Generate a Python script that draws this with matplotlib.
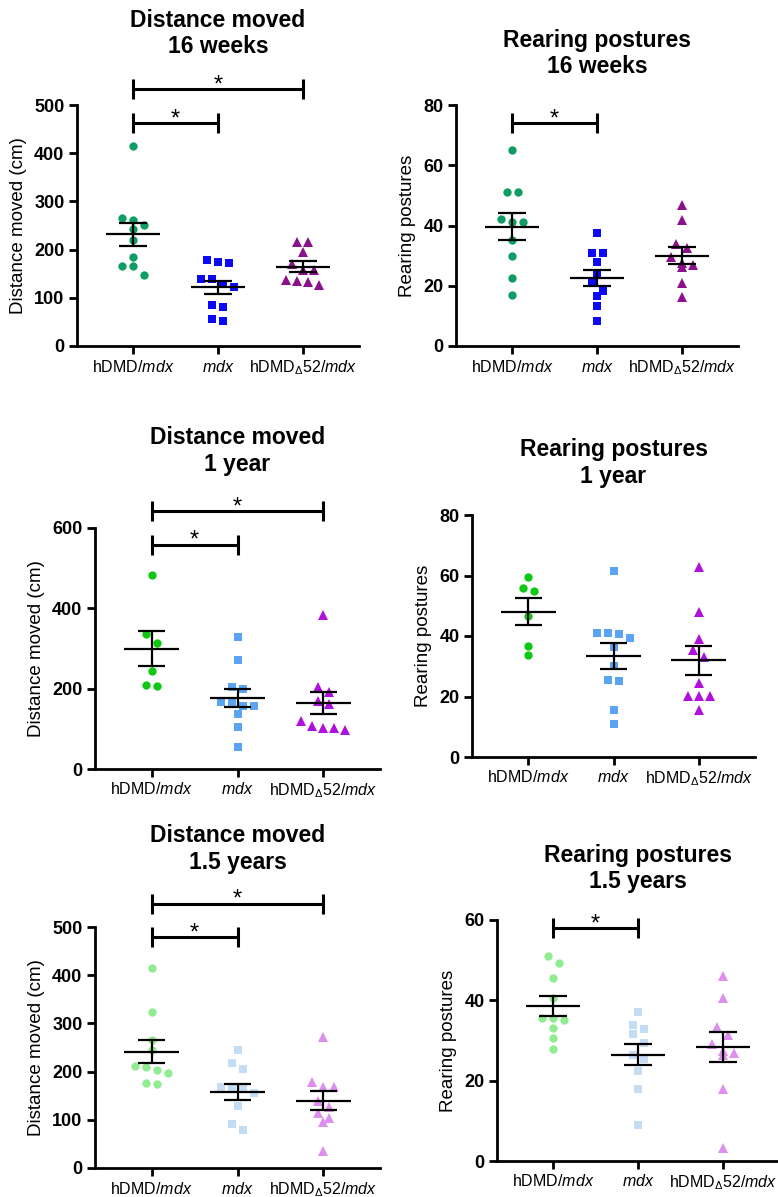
import numpy as np
import matplotlib
matplotlib.use("Agg")
import matplotlib.pyplot as plt

plt.rcParams['font.family'] = ['Liberation Sans', 'DejaVu Sans']
plt.rcParams['mathtext.fontset'] = 'custom'
plt.rcParams['mathtext.rm'] = 'Liberation Sans'
plt.rcParams['mathtext.it'] = 'Liberation Sans:italic'

groups = [r'hDMD/$\mathit{mdx}$', r'$\mathit{mdx}$', r'hDMD$_{\Delta}$52/$\mathit{mdx}$']

# distance moved, 16 weeks
dist16_hdmd = [414, 266, 262, 251, 242, 220, 185, 165, 165, 148]
dist16_mdx = [178, 174, 172, 140, 138, 128, 123, 85, 80, 55, 51]
dist16_d52 = [215, 215, 196, 171, 158, 158, 137, 135, 133, 127]
dist16_mean = [231.7, 121.7, 164.6]
dist16_sem = [24.2, 12.8, 11.1]

# rearing, 16 weeks
rear16_hdmd = [65.1, 51.2, 51.0, 42.2, 41.3, 41.0, 35.2, 29.9, 22.7, 16.9]
rear16_mdx = [37.6, 31.0, 31.0, 28.0, 24.1, 21.0, 18.4, 16.7, 13.3, 8.3]
rear16_d52 = [46.8, 41.8, 34.0, 32.4, 29.7, 27.4, 26.9, 26.3, 20.8, 16.4]
rear16_mean = [39.6, 22.7, 30.0]
rear16_sem = [4.55, 2.65, 2.9]

# distance moved, 1 year
dist1y_hdmd = [484, 336, 314, 243, 208, 206]
dist1y_mdx = [329, 271, 204, 199, 167, 164, 156, 156, 137, 104, 56]
dist1y_d52 = [384, 204, 191, 170, 163, 119, 106, 102, 102, 98]
dist1y_mean = [298.8, 176.8, 164.3]
dist1y_sem = [43.6, 21.6, 27.4]

# rearing, 1 year
rear1y_hdmd = [59.4, 56.0, 55.0, 46.7, 36.7, 33.7]
rear1y_mdx = [61.6, 41.0, 41.0, 40.5, 39.2, 36.2, 30.1, 25.6, 25.0, 15.4, 11.0]
rear1y_d52 = [62.9, 48.0, 38.9, 35.3, 32.9, 24.3, 20.1, 20.1, 20.1, 15.4]
rear1y_mean = [48.0, 33.3, 32.0]
rear1y_sem = [4.5, 4.25, 4.85]

# distance moved, 1.5 years
dist15_hdmd = [414, 323, 266, 244, 212, 210, 203, 198, 177, 174]
dist15_mdx = [245, 217, 205, 169, 168, 167, 155, 129, 92, 79]
dist15_d52 = [272, 178, 169, 168, 139, 126, 114, 103, 95, 35]
dist15_mean = [241.4, 158.6, 139.3]
dist15_sem = [24.2, 16.6, 20.0]

# rearing, 1.5 years
rear15_hdmd = [51.1, 49.4, 45.5, 40.5, 35.6, 35.6, 35.1, 33.0, 30.7, 28.0]
rear15_mdx = [37.0, 33.8, 32.8, 31.5, 29.5, 26.3, 25.5, 22.4, 17.9, 8.9]
rear15_d52 = [46.0, 40.5, 33.4, 31.3, 29.1, 27.4, 27.0, 26.3, 18.0, 3.3]
rear15_mean = [38.6, 26.5, 28.4]
rear15_sem = [2.6, 2.7, 3.75]

row_colors = [['#0f9d63', '#0a0af5', '#8b108b'],
              ['#10c814', '#5aa4f2', '#b010dc'],
              ['#90ec90', '#c4dcf4', '#de8eee']]
markers = ['o', 's', '^']
msizes = [6, 5.6, 6.6]

W, H = 778, 1197
fig = plt.figure(figsize=(W / 100, H / 100), dpi=100)

panels = [
    dict(rect=(77, 105, 359, 346), title='Distance moved\n16 weeks', ylab='Distance moved (cm)',
         data=[dist16_hdmd, dist16_mdx, dist16_d52], mean=dist16_mean, sem=dist16_sem,
         ymax=500, step=100, row=0, ty=1.297, sig=[(0, 1, 462.7), (0, 2, 533)], tick=20.7),
    dict(rect=(456, 105, 738, 346), title='Rearing postures\n16 weeks', ylab='Rearing postures',
         data=[rear16_hdmd, rear16_mdx, rear16_d52], mean=rear16_mean, sem=rear16_sem,
         ymax=80, step=20, row=0, ty=1.214, sig=[(0, 1, 74.0)], tick=3.3),
    dict(rect=(95, 528, 380, 769), title='Distance moved\n1 year', ylab='Distance moved (cm)',
         data=[dist1y_hdmd, dist1y_mdx, dist1y_d52], mean=dist1y_mean, sem=dist1y_sem,
         ymax=600, step=200, row=1, ty=1.319, sig=[(0, 1, 558.4), (0, 2, 641.3)], tick=24.9),
    dict(rect=(472, 515, 755, 757), title='Rearing postures\n1 year', ylab='Rearing postures',
         data=[rear1y_hdmd, rear1y_mdx, rear1y_d52], mean=rear1y_mean, sem=rear1y_sem,
         ymax=80, step=20, row=1, ty=1.214, sig=[], tick=3.3),
    dict(rect=(95, 927, 380, 1168), title='Distance moved\n1.5 years', ylab='Distance moved (cm)',
         data=[dist15_hdmd, dist15_mdx, dist15_d52], mean=dist15_mean, sem=dist15_sem,
         ymax=500, step=100, row=2, ty=1.323, sig=[(0, 1, 479.3), (0, 2, 548.4)], tick=20.7),
    dict(rect=(497, 920, 779, 1161), title='Rearing postures\n1.5 years', ylab='Rearing postures',
         data=[rear15_hdmd, rear15_mdx, rear15_d52], mean=rear15_mean, sem=rear15_sem,
         ymax=60, step=20, row=2, ty=1.214, sig=[(0, 1, 57.9)], tick=2.5),
]


def swarm(vals, ppu, d=11.0, row_h=9.0):
    # GraphPad-like rows: points close in y share a row, centred on the group
    vals = np.asarray(vals, float)
    order = np.argsort(-vals)
    offs = np.zeros(len(vals))
    rows = []
    for i in order:
        if rows and (vals[rows[-1][0]] - vals[i]) * ppu < row_h:
            rows[-1].append(i)
        else:
            rows.append([i])
    for r in rows:
        n = len(r)
        for j, i in enumerate(r):
            offs[i] = (j - (n - 1) / 2) * d
    return offs


for p in panels:
    l, t, r, b = p['rect']
    ax = fig.add_axes([l / W, 1 - b / H, (r - l) / W, (b - t) / H])
    ax.set_xlim(-0.66, 2.66)
    ax.set_ylim(0, p['ymax'])
    ppu_y = (b - t) / p['ymax']
    ppu_x = (r - l) / 3.32
    for k in range(3):
        vals = p['data'][k]
        dx = swarm(vals, ppu_y) / ppu_x
        ax.plot(k + dx, vals, linestyle='none', marker=markers[k], markersize=msizes[k],
                color=row_colors[p['row']][k], markeredgewidth=0, zorder=2)
        m, s = p['mean'][k], p['sem'][k]
        ax.hlines(m, k - 0.32, k + 0.32, color='black', lw=1.6, zorder=3)
        ax.hlines([m - s, m + s], k - 0.16, k + 0.16, color='black', lw=1.6, zorder=3)
        ax.vlines(k, m - s, m + s, color='black', lw=1.6, zorder=3)
    for i, j, y in p['sig']:
        tk = p['tick']
        ax.plot([i, j], [y, y], color='black', lw=2.2, clip_on=False, solid_capstyle='butt')
        ax.plot([i, i], [y - tk, y + tk], color='black', lw=2.2, clip_on=False, solid_capstyle='butt')
        ax.plot([j, j], [y - tk, y + tk], color='black', lw=2.2, clip_on=False, solid_capstyle='butt')
        ax.annotate('*', xy=((i + j) / 2, y), xytext=(0, -1.5), textcoords='offset points',
                    ha='center', va='baseline', fontsize=17, annotation_clip=False)
    ax.set_yticks(np.arange(0, p['ymax'] + 1, p['step']))
    ax.set_xticks([0, 1, 2])
    ax.set_xticklabels(groups, fontsize=11.5)
    for lab in ax.get_yticklabels():
        lab.set_fontweight('bold')
        lab.set_fontsize(13)
    ax.tick_params(axis='both', width=2, length=6, pad=3, color='black')
    for side in ['top', 'right']:
        ax.spines[side].set_visible(False)
    for side in ['left', 'bottom']:
        ax.spines[side].set_linewidth(2)
    ax.set_ylabel(p['ylab'], fontsize=13.5, labelpad=5)
    ax.text(0.5, p['ty'], p['title'], transform=ax.transAxes, ha='center', va='center',
            fontsize=16.5, fontweight='bold', linespacing=1.2)

plt.savefig('out.png', dpi=100)
